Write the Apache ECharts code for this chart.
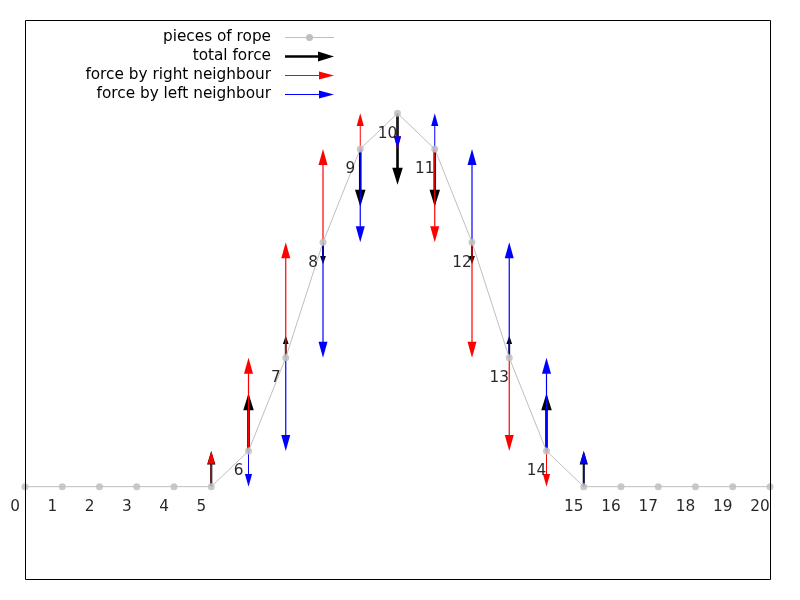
<!DOCTYPE html>
<html>
<head>
<meta charset="utf-8">
<script src="https://cdn.jsdelivr.net/npm/echarts@6/dist/echarts.min.js"></script>
<style>html,body{margin:0;padding:0;background:#fff}#c{width:800px;height:600px}</style>
</head>
<body>
<div id="c"></div>
<script>
// ---- data ----
const pointIndex = [0,1,2,3,4,5,6,7,8,9,10,11,12,13,14,15,16,17,18,19,20];
const pointLabels = ['0','1','2','3','4','5','6','7','8','9','10','11','12','13','14','15','16','17','18','19','20'];
const ropeY = [0,0,0,0,0,0,0.0955,0.3455,0.6545,0.9045,1,0.9045,0.6545,0.3455,0.0955,0,0,0,0,0,0];
const totalForce = [0,0,0,0,0,0.0955,0.1545,0.059,-0.059,-0.1545,-0.191,-0.1545,-0.059,0.059,0.1545,0.0955,0,0,0,0,0];
const rightForce = [0,0,0,0,0,0.0955,0.25,0.309,0.25,0.0955,-0.0955,-0.25,-0.309,-0.25,-0.0955,0,0,0,0,0,0];
const leftForce  = [0,0,0,0,0,0,-0.0955,-0.25,-0.309,-0.25,-0.0955,0.0955,0.25,0.309,0.25,0.0955,0,0,0,0,0];
const legendNames = ['pieces of rope','total force','force by right neighbour','force by left neighbour'];

const FONT = 'DejaVu Sans';
const FS = 15.3;
const chart = echarts.init(document.getElementById('c'), null, {renderer:'canvas'});

function arrowData(forces){
  const out = [];
  pointIndex.forEach((x,i)=>{ if (forces[i] !== 0) out.push([x, ropeY[i], forces[i]]); });
  return out;
}
function arrowRenderer(color, shaftW, headL, headW, T){
  return function(params, api){
    const x = api.value(0), y = api.value(1), f = api.value(2);
    const p0 = api.coord([x, y]);
    const p1 = api.coord([x, y + f]);
    const len = Math.abs(p1[1] - p0[1]);
    const dir = p1[1] < p0[1] ? -1 : 1;
    const s = Math.min(1, len / T);
    const hl = headL * s, hw = headW * Math.max(s, 0.55) / 2;
    const sw = Math.max(1, shaftW * Math.max(s, 0.7));
    const base = p1[1] - dir * hl;
    return {type:'group', children:[
      {type:'line', shape:{x1:p0[0], y1:p0[1], x2:p0[0], y2:base + dir*0.5}, style:{stroke:color, lineWidth:sw}},
      {type:'polygon', shape:{points:[[p1[0], p1[1]], [p1[0]-hw, base], [p1[0]+hw, base]]}, style:{fill:color}}
    ]};
  };
}
function arrowSeries(name, forces, color, shaftW, headL, headW, T){
  return {
    name: name, type:'custom', silent:true, clip:false, z:2,
    encode:{x:0, y:1},
    data: arrowData(forces),
    renderItem: arrowRenderer(color, shaftW, headL, headW, T)
  };
}

// legend + frame drawn as graphic elements
const legendX = 271, lineX1 = 285, lineX2 = 334;
const rowsY = [37.5, 56.5, 75.5, 94.5];
const legendColors = ['#bfbfbf','#000000','#ff0000','#0000ff'];
const graphics = [
  {type:'rect', shape:{x:25.5, y:20.5, width:745, height:559}, style:{fill:null, stroke:'#000', lineWidth:1}, z:10, silent:true}
];
legendNames.forEach((n,i)=>{
  graphics.push({type:'text', x:legendX, y:rowsY[i], style:{text:n, fill:'#000', font:FS+'px "'+FONT+'"', textAlign:'right', textVerticalAlign:'middle'}});
});
graphics.push({type:'line', shape:{x1:lineX1,y1:rowsY[0],x2:lineX2,y2:rowsY[0]}, style:{stroke:legendColors[0], lineWidth:1}});
graphics.push({type:'circle', shape:{cx:(lineX1+lineX2)/2, cy:rowsY[0], r:3.5}, style:{fill:legendColors[0]}});
[[1,2.6,16,10],[2,1.2,15,8],[3,1.2,15,8]].forEach(([i,w,hl,hw])=>{
  graphics.push({type:'line', shape:{x1:lineX1,y1:rowsY[i],x2:lineX2-hl+0.5,y2:rowsY[i]}, style:{stroke:legendColors[i], lineWidth:w}});
  graphics.push({type:'polygon', shape:{points:[[lineX2,rowsY[i]],[lineX2-hl,rowsY[i]-hw/2],[lineX2-hl,rowsY[i]+hw/2]]}, style:{fill:legendColors[i]}});
});

chart.setOption({
  animation:false,
  backgroundColor:'#fff',
  grid:{left:25, right:30, top:20, bottom:20, show:false, containLabel:false},
  xAxis:{type:'value', min:0, max:20, axisLine:{show:false}, axisTick:{show:false}, axisLabel:{show:false}, splitLine:{show:false}},
  yAxis:{type:'value', min:-0.25, max:1.25, axisLine:{show:false}, axisTick:{show:false}, axisLabel:{show:false}, splitLine:{show:false}},
  graphic: graphics,
  series:[
    arrowSeries(legendNames[1], totalForce, '#000000', 2.6, 17, 10.5, 45),
    arrowSeries(legendNames[2], rightForce, '#ff0000', 1.2, 16, 9, 45),
    arrowSeries(legendNames[3], leftForce, '#0000ff', 1.2, 16, 9, 45),
    {
      name: legendNames[0], type:'line', z:3, silent:true, clip:false,
      data: pointIndex.map((x,i)=>[x, ropeY[i]]),
      symbol:'circle', symbolSize:7, showAllSymbol:true,
      itemStyle:{color:'#bfbfbf', opacity:0.85},
      lineStyle:{color:'#bfbfbf', width:1},
      label:{show:true, position:'inside', offset:[-10, 20.5], color:'#000', fontSize:FS, fontFamily:FONT,
        formatter:(p)=>pointLabels[p.dataIndex]}
    }
  ]
});
</script>
</body>
</html>
